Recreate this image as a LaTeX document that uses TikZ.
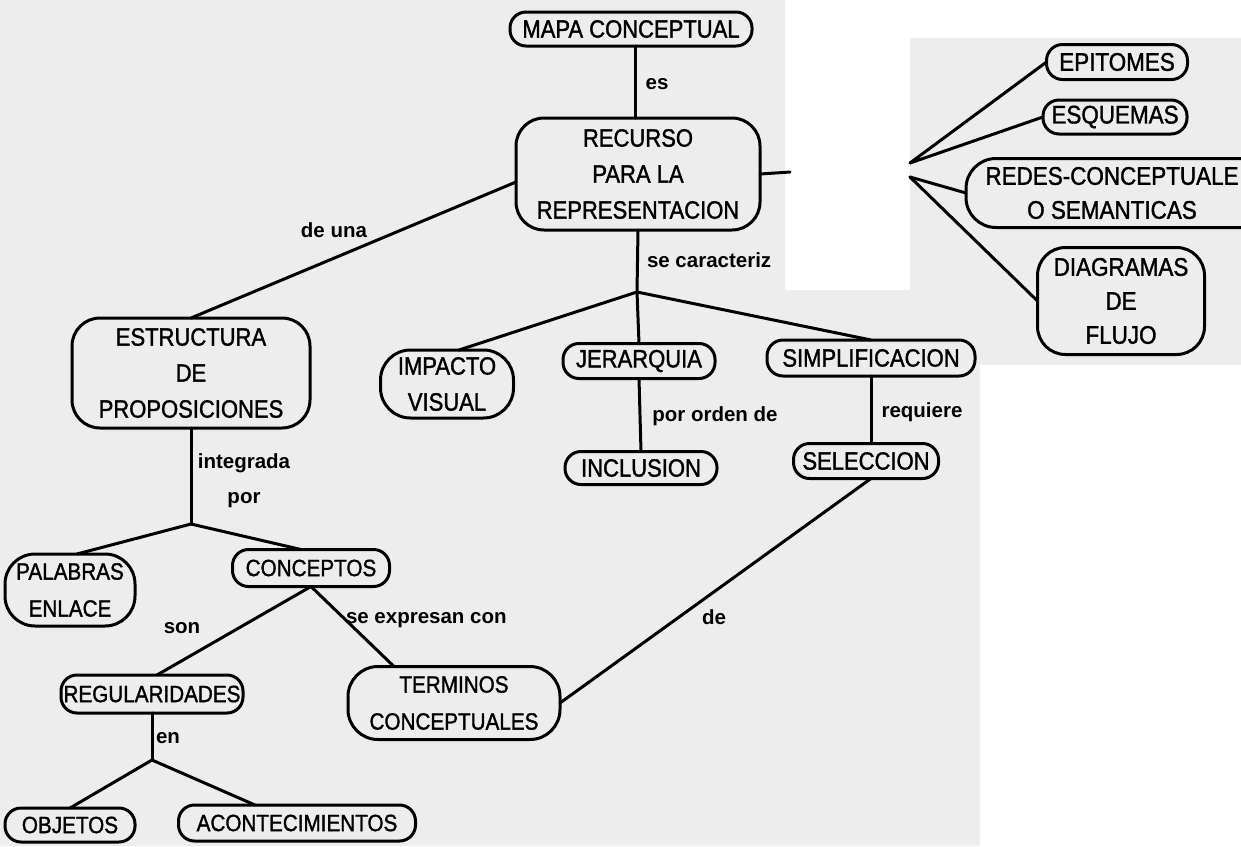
\documentclass[tikz,border=0pt]{standalone}
\usepackage{fontspec}
\setmainfont{Liberation Sans}
\newfontfamily\nf[FakeStretch=0.88,RawFeature={embolden=1.4}]{Liberation Sans}
\definecolor{bg}{RGB}{237,237,237}
\begin{document}
\begin{tikzpicture}[x=1pt,y=-1pt,
  every node/.style={inner sep=0pt, outer sep=0pt},
  ln/.style={line width=3pt, line cap=round},
  ov/.style={draw, line width=3pt, rounded corners=16pt, align=center},
  ovb/.style={draw, line width=3pt, rounded corners=30pt, align=center},
  bx/.style={draw, line width=3pt, rounded corners=28pt, align=center},
  fa/.style={font=\nf\fontsize{25}{36}\selectfont},
  fb/.style={font=\nf\fontsize{23.5}{37}\selectfont},
  fc/.style={font=\nf\fontsize{25.5}{34}\selectfont},
  lb/.style={font=\bfseries\fontsize{20.5}{35}\selectfont, align=center}]
\useasboundingbox (0,0) rectangle (1241,846);
\clip (0,0) rectangle (1241,846);
\fill[white] (0,0) rectangle (1241,846);
\fill[bg] (0,0) -- (785,0) -- (785,290) -- (980,290) -- (980,846) -- (0,846) -- cycle;
\fill[bg] (910,38) rectangle (1241,365);

% nodes
\node[ov,fa,minimum width=242pt,minimum height=34pt] (mapa) at (631,29) {MAPA CONCEPTUAL};
\node[bx,fa,minimum width=244pt,minimum height=112pt] (recurso) at (638,174) {RECURSO\\PARA LA\\REPRESENTACION};
\node[bx,fa,minimum width=238pt,minimum height=110pt] (estructura) at (191,373) {ESTRUCTURA\\DE\\PROPOSICIONES};
\node[ovb,fa,minimum width=133pt,minimum height=68pt] (impacto) at (447,384) {IMPACTO\\VISUAL};
\node[ov,fa,minimum width=152pt,minimum height=35pt] (jerarquia) at (639,361) {JERARQUIA};
\node[ov,fa,minimum width=152pt,minimum height=33pt] (inclusion) at (641,468) {INCLUSION};
\node[ov,fa,minimum width=208pt,minimum height=36pt] (simpl) at (871,358) {SIMPLIFICACION};
\node[ov,fa,minimum width=145pt,minimum height=35pt] (seleccion) at (866,461) {SELECCION};
\node[ovb,fb,minimum width=130pt,minimum height=72pt] (palabras) at (70,590) {PALABRAS\\ENLACE};
\node[ov,fb,minimum width=157pt,minimum height=37pt] (conceptos) at (311,568) {CONCEPTOS};
\node[ov,fb,minimum width=182pt,minimum height=38pt] (regular) at (152,694) {REGULARIDADES};
\node[ovb,fb,minimum width=212pt,minimum height=73pt] (terminos) at (454,703) {TERMINOS\\CONCEPTUALES};
\node[ov,fb,minimum width=130pt,minimum height=34pt] (objetos) at (70,825) {OBJETOS};
\node[ov,fb,minimum width=237pt,minimum height=36pt] (aconte) at (297,823) {ACONTECIMIENTOS};
% right inset
\node[ov,fc,minimum width=141pt,minimum height=35pt] (epitomes) at (1117,62) {EPITOMES};
\node[ov,fc,minimum width=144pt,minimum height=34pt] (esquemas) at (1115,117) {ESQUEMAS};
\node[ovb,fc,minimum width=348pt,minimum height=69pt] (redes) at (1140,193) {REDES-CONCEPTUALE\hspace*{56pt}\\O SEMANTICAS\hspace*{56pt}};
\node[bx,fc,minimum width=167pt,minimum height=107pt] (diagramas) at (1121,301) {DIAGRAMAS\\DE\\FLUJO};

% junctions
\coordinate (j1) at (637,292);
\coordinate (j2) at (191,524);
\coordinate (j4) at (152,760);
\coordinate (j5) at (910,163);
\coordinate (j6) at (910,177);
\coordinate (stub) at (790,172);

% connectors
\draw[ln] ([xshift=4pt]mapa.south) -- ([xshift=-3pt]recurso.north);
\draw[ln] (recurso.east) -- (stub);
\draw[ln] ([yshift=-8pt]recurso.west) -- (estructura.north);
\draw[ln] (recurso.south) -- (j1);
\draw[ln] (j1) -- ([xshift=12pt]impacto.north);
\draw[ln] (j1) -- (jerarquia.north);
\draw[ln] (j1) -- (simpl.north);
\draw[ln] (jerarquia.south) -- (inclusion.north);
\draw[ln] (simpl.south) -- ([xshift=5pt]seleccion.north);
\draw[ln] ([xshift=5pt]seleccion.south) -- (terminos.east);
\draw[ln] (estructura.south) -- (j2);
\draw[ln] (j2) -- ([xshift=7pt]palabras.north);
\draw[ln] (j2) -- ([xshift=-10pt]conceptos.north);
\draw[ln] (conceptos.south) -- ([xshift=5pt]regular.north);
\draw[ln] (conceptos.south) -- ([xshift=-60pt]terminos.north);
\draw[ln] (regular.south) -- (j4);
\draw[ln] (j4) -- (objetos.north);
\draw[ln] (j4) -- ([xshift=-42pt]aconte.north);
\draw[ln] (j5) -- (epitomes.west);
\draw[ln] (j5) -- (esquemas.west);
\draw[ln] (j6) -- (redes.west);
\draw[ln] (j6) -- (diagramas.west);

% labels
\node[lb] (les) at (657,84) {es};
\node[lb,anchor=west] (lcar) at (647,260) {se caracteriz};
\node[lb] (ldeuna) at (334,230) {de una};
\node[lb] (linteg) at (244,481) {integrada\\por};
\node[lb] (lson) at (182,628) {son};
\node[lb,anchor=west] (lexpr) at (346,620) {se expresan con};
\node[lb] (len) at (168,738) {en};
\node[lb] (lde) at (714,617) {de};
\node[lb] (lorden) at (715,416) {por orden de};
\node[lb] (lreq) at (922,412) {requiere};
\end{tikzpicture}
\end{document}
